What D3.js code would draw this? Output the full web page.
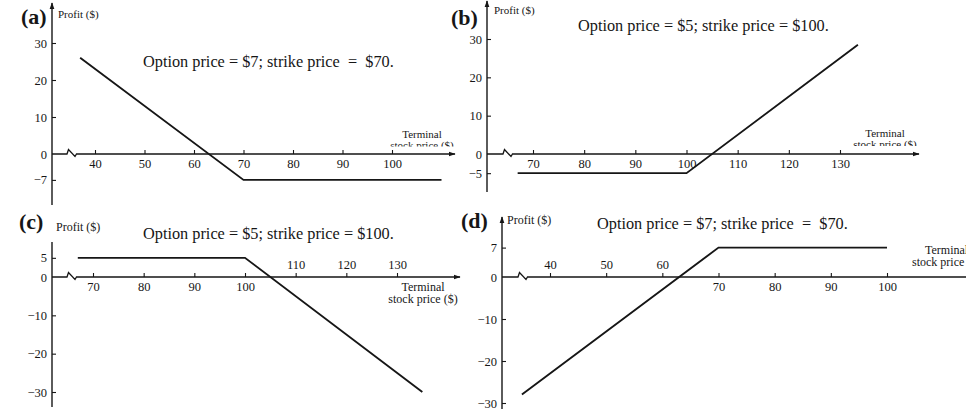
<!DOCTYPE html>
<html>
<head>
<meta charset="utf-8">
<script src="https://cdn.jsdelivr.net/npm/d3@7"></script>
<style>
  html, body { margin: 0; padding: 0; background: #fff; }
  svg { display: block; }
  text { font-family: "Liberation Serif", "Times New Roman", serif; fill: #161616; }
</style>
</head>
<body>
<svg id="chart" width="966" height="409"></svg>
<script>
// Profit diagrams for four option positions (profit vs. terminal stock price)

// (a) option price $7, strike $70
const pricesA = [37, 70, 110];
const profitA = [26, -7, -7];
const xTicksA = [40, 50, 60, 70, 80, 90, 100];
const yTicksA = [30, 20, 10, 0, -7];

// (b) long call: option price $5, strike $100
const pricesB = [67, 100, 133.5];
const profitB = [-5, -5, 28.5];
const xTicksB = [70, 80, 90, 100, 110, 120, 130];
const yTicksB = [30, 20, 10, 0, -5];

// (c) short call: option price $5, strike $100
const pricesC = [67, 100, 135];
const profitC = [5, 5, -30];
const xTicksC = [70, 80, 90, 100, 110, 120, 130];
const xTicksAboveC = [110, 120, 130];
const yTicksC = [5, 0, -10, -20, -30];

// (d) short put: option price $7, strike $70
const pricesD = [35, 70, 100];
const profitD = [-28, 7, 7];
const xTicksD = [40, 50, 60, 70, 80, 90, 100];
const xTicksAboveD = [40, 50, 60];
const yTicksD = [7, 0, -10, -20, -30];

const panelLetters = ["(a)", "(b)", "(c)", "(d)"];
const panelTitles = [
  "Option price = $7; strike price  =  $70.",
  "Option price = $5; strike price = $100.",
  "Option price = $5; strike price = $100.",
  "Option price = $7; strike price  =  $70."
];
const yAxisTitle = "Profit ($)";
const xAxisTitle = ["Terminal", "stock price ($)"];

const svg = d3.select("#chart");
const ink = "#161616";

// arrowhead for axis ends
svg.append("defs").append("marker")
  .attr("id", "arrow")
  .attr("viewBox", "0 0 10 10")
  .attr("refX", 9).attr("refY", 5)
  .attr("markerWidth", 7).attr("markerHeight", 7)
  .attr("markerUnits", "userSpaceOnUse")
  .attr("orient", "auto")
  .append("path").attr("d", "M0,1.5 L10,5 L0,8.5 Z").attr("fill", ink);

function drawPanel(p) {
  const g = svg.append("g");
  const x = d3.scaleLinear().domain(p.xDomain).range(p.xRange);
  const y = d3.scaleLinear().domain(p.yDomain).range(p.yRange);
  const ax = p.axisX;          // pixel position of the vertical axis
  const y0 = y(0);

  // vertical axis
  g.append("line")
    .attr("x1", ax).attr("x2", ax)
    .attr("y1", p.yAxisBottom).attr("y2", p.yAxisTop)
    .attr("stroke", ink).attr("stroke-width", 1.4)
    .attr("marker-end", p.yArrow ? "url(#arrow)" : null);

  // horizontal axis with a break mark near the origin
  const zx = p.breakX;
  const axisPath = d3.line()([
    [ax, y0], [zx, y0], [zx + 1.5, y0 - 4.5], [zx + 8, y0 + 2.5], [zx + 9.5, y0], [p.xAxisEnd, y0]
  ]);
  g.append("path").attr("d", axisPath)
    .attr("fill", "none").attr("stroke", ink).attr("stroke-width", 1.3)
    .attr("marker-end", p.xArrow ? "url(#arrow)" : null);

  // y ticks (marks to the right, labels to the left)
  const yAxis = d3.axisLeft(y).tickValues(p.yTicks).tickSize(-4).tickPadding(5);
  const yg = g.append("g").attr("transform", `translate(${ax},0)`).call(yAxis);
  yg.select(".domain").remove();
  yg.selectAll("line").attr("stroke", ink).attr("stroke-width", 1.1);
  yg.selectAll("text")
    .style("font-family", '"Liberation Serif", "Times New Roman", serif')
    .style("font-size", "12.5px").attr("fill", ink);
  yg.selectAll(".tick").filter(d => d === 0).select("line").remove();

  // x ticks (marks point up, labels below or above)
  const xAxis = d3.axisBottom(x).tickValues(p.xTicks).tickSize(-4).tickPadding(5);
  const xg = g.append("g").attr("transform", `translate(0,${y0})`).call(xAxis);
  xg.select(".domain").remove();
  xg.selectAll("line").attr("stroke", ink).attr("stroke-width", 1.1);
  xg.selectAll("text")
    .style("font-family", '"Liberation Serif", "Times New Roman", serif')
    .style("font-size", "12.5px").attr("fill", ink);
  const above = p.xTicksAbove || [];
  xg.selectAll(".tick").filter(d => above.includes(d)).select("text")
    .attr("y", -8).attr("dy", "0");

  // profit line
  const pts = p.prices.map((s, i) => [s, p.profit[i]]);
  g.append("path")
    .attr("d", d3.line().x(d => x(d[0])).y(d => y(d[1]))(pts))
    .attr("fill", "none").attr("stroke", ink).attr("stroke-width", 1.9)
    .attr("stroke-linejoin", "miter");

  // panel letter, axis titles and caption
  g.append("text").attr("x", p.letterPos[0]).attr("y", p.letterPos[1])
    .style("font-size", "22px").style("font-weight", "bold").text(p.letter);
  g.append("text").attr("x", p.profitPos[0]).attr("y", p.profitPos[1])
    .style("font-size", p.smallSize + "px").text(yAxisTitle);
  g.append("text").attr("x", p.titlePos[0]).attr("y", p.titlePos[1])
    .style("font-size", "16.3px").style("white-space", "pre").text(p.title);

  let tg = g;
  if (p.termClip) {
    const id = "clip" + p.letter.replace(/\W/g, "");
    svg.select("defs").append("clipPath").attr("id", id)
      .append("rect").attr("x", 0).attr("y", 0).attr("width", 966).attr("height", p.termClip);
    tg = g.append("g").attr("clip-path", `url(#${id})`);
  }
  xAxisTitle.forEach((t, i) => {
    tg.append("text")
      .attr("x", p.termPos[i][0]).attr("y", p.termPos[i][1])
      .attr("text-anchor", p.termAnchor)
      .style("font-size", p.smallSize + "px").text(t);
  });
}

drawPanel({
  letter: panelLetters[0], title: panelTitles[0],
  prices: pricesA, profit: profitA, xTicks: xTicksA, yTicks: yTicksA,
  xDomain: [40, 100], xRange: [95, 392], yDomain: [0, 30], yRange: [154, 43],
  axisX: 52, yAxisTop: 3, yAxisBottom: 205, yArrow: true,
  breakX: 67, xAxisEnd: 455, xArrow: true,
  letterPos: [21, 24], profitPos: [58, 18], titlePos: [143, 67], smallSize: 11,
  termPos: [[422, 138], [422, 149]], termAnchor: "middle", termClip: 146.5
});

drawPanel({
  letter: panelLetters[1], title: panelTitles[1],
  prices: pricesB, profit: profitB, xTicks: xTicksB, yTicks: yTicksB,
  xDomain: [70, 130], xRange: [533, 840], yDomain: [0, 30], yRange: [154, 39],
  axisX: 487, yAxisTop: 1, yAxisBottom: 192, yArrow: true,
  breakX: 503, xAxisEnd: 919, xArrow: true,
  letterPos: [451, 25], profitPos: [494, 14], titlePos: [578, 31], smallSize: 11,
  termPos: [[885, 137], [885, 148]], termAnchor: "middle", termClip: 146
});

drawPanel({
  letter: panelLetters[2], title: panelTitles[2],
  prices: pricesC, profit: profitC, xTicks: xTicksC, xTicksAbove: xTicksAboveC, yTicks: yTicksC,
  xDomain: [70, 130], xRange: [93, 397], yDomain: [0, -30], yRange: [277, 392],
  axisX: 52, yAxisTop: 242, yAxisBottom: 407, yArrow: false,
  breakX: 67, xAxisEnd: 460, xArrow: true,
  letterPos: [19, 229], profitPos: [56, 231], titlePos: [143, 239], smallSize: 12,
  termPos: [[423, 290.5], [423, 303]], termAnchor: "middle"
});

drawPanel({
  letter: panelLetters[3], title: panelTitles[3],
  prices: pricesD, profit: profitD, xTicks: xTicksD, xTicksAbove: xTicksAboveD, yTicks: yTicksD,
  xDomain: [40, 100], xRange: [550, 887], yDomain: [0, -30], yRange: [277, 403],
  axisX: 502, yAxisTop: 217, yAxisBottom: 409, yArrow: true,
  breakX: 518, xAxisEnd: 970, xArrow: false,
  letterPos: [461, 228], profitPos: [507, 224], titlePos: [597, 229], smallSize: 12,
  termPos: [[925, 253.5], [912, 266]], termAnchor: "start"
});
</script>
</body>
</html>
